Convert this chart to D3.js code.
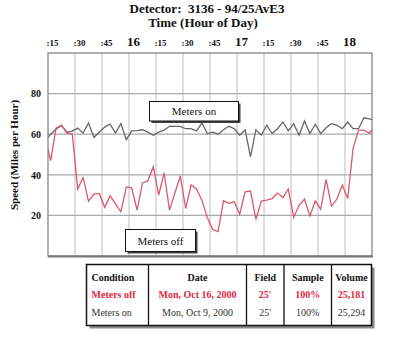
<!DOCTYPE html>
<html>
<head>
<meta charset="utf-8">
<script src="https://cdn.jsdelivr.net/npm/d3@7/dist/d3.min.js"></script>
<style>
  html, body { margin: 0; padding: 0; background: #fff; }
  svg { display: block; }
  text { font-family: "Liberation Serif", "DejaVu Serif", serif; }
</style>
</head>
<body>
<svg id="chart" width="400" height="341"></svg>
<script>
// Sample times: minutes after 15:00, one reading every 3 minutes
const times = d3.range(-1, 61).map(k => 16.5 + 3 * k);

// Speeds (mph) with ramp meters switched off (Mon, Oct 16, 2000)
const metersOff = [58, 47, 63, 64.5, 60.5, 60, 33, 38.7, 27, 30.5, 30.8, 24, 29.6, 25.7, 21.8,
  34, 33.6, 22.6, 36, 37, 44, 30, 41, 22.6, 31, 39.3, 23.4, 35, 33, 27.5, 19, 13, 12,
  27.2, 26, 26.7, 20.6, 31.6, 32, 18, 27, 27.5, 28.3, 31, 28.8, 33, 19, 25, 28, 19.7,
  27.2, 23, 37.7, 24.6, 28, 35, 28.3, 53, 62, 62, 60.5, 64];

// Speeds (mph) with ramp meters switched on (Mon, Oct 9, 2000)
const metersOn = [57, 60, 62.5, 64.4, 61, 61.5, 63, 60.6, 65.5, 58.5, 61, 63.5, 65, 60.6, 65.2,
  57.3, 61.6, 61.8, 62.2, 61, 59.5, 61, 62, 63.9, 63.9, 63.9, 62.7, 62.7, 61.6, 65.5, 60.3,
  61, 60, 62.2, 63.9, 62.7, 59.5, 62.2, 48.8, 62.2, 59.5, 64.4, 60.3, 62.7, 66, 61.6, 65.2,
  59.5, 66.5, 60.3, 64.9, 60.3, 63.2, 65.2, 64.4, 62.7, 66, 62.7, 62.7, 68.1, 67.5, 67];

// Top axis ticks every quarter hour
const tickMinutes = d3.range(15, 181, 15);
const tickLabels = [":15", ":30", ":45", "16", ":15", ":30", ":45", "17", ":15", ":30", ":45", "18"];
const yTicks = [20, 40, 60, 80];

// Summary table
const tableHeader = ["Condition", "Date", "Field", "Sample", "Volume"];
const tableRows = [
  ["Meters off", "Mon, Oct 16, 2000", "25\u2032", "100%", "25,181"],
  ["Meters on", "Mon, Oct 9, 2000", "25\u2032", "100%", "25,294"]
];

const svg = d3.select("#chart");
const plotL = 48, plotR = 372, plotT = 53, plotB = 256;

const x = d3.scaleLinear().domain([15, 195]).range([plotL, plotR]);
const y = d3.scaleLinear().domain([0, 100]).range([plotB, plotT]);

// Titles
svg.append("text").attr("x", 207).attr("y", 13).attr("text-anchor", "middle")
  .attr("font-size", 13).attr("font-weight", "bold").attr("fill", "#111")
  .text("Detector:\u00a0 3136 - 94/25AvE3");
svg.append("text").attr("x", 203).attr("y", 27).attr("text-anchor", "middle")
  .attr("font-size", 13).attr("font-weight", "bold").attr("fill", "#111")
  .text("Time (Hour of Day)");

// Grid
const grid = svg.append("g");
grid.selectAll("line.v").data(tickMinutes.filter(m => m > 15)).join("line")
  .attr("x1", d => x(d)).attr("x2", d => x(d)).attr("y1", plotT).attr("y2", plotB)
  .attr("stroke", "#c9c9c9").attr("stroke-width", 1.2);
grid.selectAll("line.h").data(yTicks).join("line")
  .attr("x1", plotL).attr("x2", plotR).attr("y1", d => y(d)).attr("y2", d => y(d))
  .attr("stroke", "#a9a9a9").attr("stroke-width", 1.2);

// Top axis labels
const topAxis = d3.axisTop(x).tickValues(tickMinutes).tickSize(0)
  .tickFormat((d, i) => tickLabels[i]);
const ta = svg.append("g").attr("transform", `translate(4,${plotT - 4})`).call(topAxis);
ta.select(".domain").remove();
ta.selectAll("text")
  .attr("font-weight", "bold").attr("fill", "#111")
  .attr("font-size", (d, i) => tickLabels[i].startsWith(":") ? 9 : 13);

// Left axis labels
const la = svg.append("g").attr("transform", `translate(${plotL - 4},0)`)
  .call(d3.axisLeft(y).tickValues(yTicks).tickSize(0));
la.select(".domain").remove();
la.selectAll("text")
  .attr("font-size", 10).attr("font-weight", "bold").attr("fill", "#111");

svg.append("text")
  .attr("transform", "translate(18,155) rotate(-90)")
  .attr("text-anchor", "middle").attr("font-size", 11).attr("font-weight", "bold")
  .attr("fill", "#111").text("Speed (Miles per Hour)");

// Series lines, clipped to the plot frame
svg.append("clipPath").attr("id", "plotClip").append("rect")
  .attr("x", plotL).attr("y", plotT).attr("width", plotR - plotL).attr("height", plotB - plotT);

const line = vals => d3.line().x((d, i) => x(times[i])).y(d => y(d))(vals);
const series = svg.append("g").attr("clip-path", "url(#plotClip)");
series.append("path").attr("d", line(metersOn)).attr("fill", "none")
  .attr("stroke", "#5f6a66").attr("stroke-width", 1.3);
series.append("path").attr("d", line(metersOff)).attr("fill", "none")
  .attr("stroke", "#d9596c").attr("stroke-width", 1.3);

// Frame
svg.append("rect").attr("x", plotL).attr("y", plotT)
  .attr("width", plotR - plotL).attr("height", plotB - plotT)
  .attr("fill", "none").attr("stroke", "#858585").attr("stroke-width", 1.3);
svg.append("line").attr("x1", plotL).attr("x2", plotR + 1).attr("y1", plotB + 0.5).attr("y2", plotB + 0.5)
  .attr("stroke", "#777").attr("stroke-width", 2);

// Callout boxes
function callout(bx, by, bw, bh, label) {
  svg.append("rect").attr("x", bx + 2).attr("y", by + 2).attr("width", bw).attr("height", bh)
    .attr("fill", "#444");
  svg.append("rect").attr("x", bx).attr("y", by).attr("width", bw).attr("height", bh)
    .attr("fill", "#fff").attr("stroke", "#111").attr("stroke-width", 1);
  svg.append("text").attr("x", bx + bw / 2).attr("y", by + bh / 2 + 4)
    .attr("text-anchor", "middle").attr("font-size", 11).attr("fill", "#111").text(label);
}
callout(149.5, 101.5, 89, 19.5, "Meters on");
callout(125.5, 229.5, 70, 22, "Meters off");

// Table
const colEdges = [86.5, 148.5, 246.5, 284, 331.5, 371.5];
const tTop = 264.5, tBottom = 325.5;
const rowBase = [281, 298, 316];
svg.append("rect").attr("x", colEdges[0] + 3).attr("y", tTop + 3)
  .attr("width", colEdges[5] - colEdges[0]).attr("height", tBottom - tTop).attr("fill", "#8a8a8a");
svg.append("rect").attr("x", colEdges[0]).attr("y", tTop)
  .attr("width", colEdges[5] - colEdges[0]).attr("height", tBottom - tTop)
  .attr("fill", "#fff").attr("stroke", "#111").attr("stroke-width", 1.5);
svg.selectAll("line.col").data(colEdges.slice(1, 5)).join("line")
  .attr("x1", d => d).attr("x2", d => d).attr("y1", tTop).attr("y2", tBottom)
  .attr("stroke", "#111").attr("stroke-width", 1.3);

const cellX = (c) => c === 0 ? colEdges[0] + 5 : (colEdges[c] + colEdges[c + 1]) / 2;
const anchor = (c) => c === 0 ? "start" : "middle";
svg.selectAll("text.hdr").data(tableHeader).join("text")
  .attr("x", (d, c) => cellX(c)).attr("y", rowBase[0]).attr("text-anchor", (d, c) => anchor(c))
  .attr("font-size", 10).attr("font-weight", "bold").attr("fill", "#111").text(d => d);
svg.selectAll("text.r1").data(tableRows[0]).join("text")
  .attr("x", (d, c) => cellX(c)).attr("y", rowBase[1]).attr("text-anchor", (d, c) => anchor(c))
  .attr("font-size", 10).attr("font-weight", "bold").attr("fill", "#e3263f").text(d => d);
svg.selectAll("text.r2").data(tableRows[1]).join("text")
  .attr("x", (d, c) => cellX(c)).attr("y", rowBase[2]).attr("text-anchor", (d, c) => anchor(c))
  .attr("font-size", 10).attr("fill", "#333").text(d => d);
</script>
</body>
</html>
